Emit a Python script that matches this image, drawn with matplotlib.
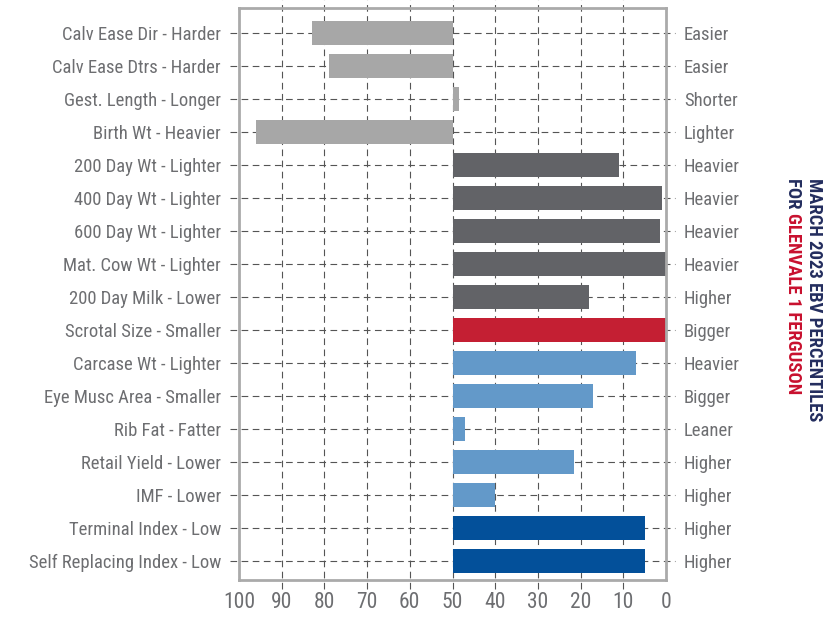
import matplotlib
matplotlib.use("Agg")
import matplotlib.pyplot as plt
import matplotlib.transforms as mtransforms

plt.rcParams['font.family'] = ['Roboto Condensed', 'DejaVu Sans']

left_labels = [
    "Calv Ease Dir - Harder", "Calv Ease Dtrs - Harder", "Gest. Length - Longer",
    "Birth Wt - Heavier", "200 Day Wt - Lighter", "400 Day Wt - Lighter",
    "600 Day Wt - Lighter", "Mat. Cow Wt - Lighter", "200 Day Milk - Lower",
    "Scrotal Size - Smaller", "Carcase Wt - Lighter", "Eye Musc Area - Smaller",
    "Rib Fat - Fatter", "Retail Yield - Lower", "IMF - Lower",
    "Terminal Index - Low", "Self Replacing Index - Low",
]
right_labels = [
    "Easier", "Easier", "Shorter", "Lighter", "Heavier", "Heavier", "Heavier",
    "Heavier", "Higher", "Bigger", "Heavier", "Bigger", "Leaner", "Higher",
    "Higher", "Higher", "Higher",
]
percentiles = [83, 79, 48.5, 96, 11, 1, 1.5, 0, 18, 0, 7, 17, 47, 21.5, 40, 5, 5]
groups = ["calving"] * 4 + ["growth"] * 5 + ["fertility"] + ["carcase"] * 5 + ["index"] * 2

group_colors = {
    "calving": "#a7a7a7",
    "growth": "#626367",
    "fertility": "#c41f33",
    "carcase": "#6399c9",
    "index": "#03509a",
}
grey_text = "#6d6e71"
grid_c = "#555555"

fig = plt.figure(figsize=(8.29, 6.19), dpi=100)
ax = fig.add_axes([239 / 829, 39 / 619, 427 / 829, 572 / 619])

ypos = list(range(len(left_labels)))
for y, v, g in zip(ypos, percentiles, groups):
    ax.barh(y, v - 50, left=50, height=0.72, color=group_colors[g], zorder=3)

ax.set_xlim(100, 0)
ax.set_ylim(16.58, -0.76)

# dashed grid that runs a little past the frame
vt = mtransforms.blended_transform_factory(ax.transData, ax.transAxes)
for x in range(10, 100, 10):
    ax.plot([x, x], [-0.016, 1.014], transform=vt, color=grid_c, lw=0.8,
            ls=(0, (6, 4)), clip_on=False, zorder=1)
ht = mtransforms.blended_transform_factory(ax.transAxes, ax.transData)
for y in ypos:
    ax.plot([-0.022, 1.02], [y, y], transform=ht, color=grid_c, lw=0.8,
            ls=(0, (6, 4)), clip_on=False, zorder=1)

for s in ax.spines.values():
    s.set_color("#aaaaaa")
    s.set_linewidth(2)
    s.set_zorder(4)

ax.set_xticks(range(0, 101, 10))
ax.tick_params(axis="x", length=0, pad=9, labelsize=15.5, labelcolor=grey_text)
ax.set_yticks(ypos)
ax.set_yticklabels(left_labels)
ax.tick_params(axis="y", length=0, pad=13, labelsize=13.4, labelcolor=grey_text)

sec = ax.secondary_yaxis("right")
sec.set_yticks(ypos, right_labels)
sec.tick_params(axis="y", length=0, pad=13, labelsize=13.4, labelcolor=grey_text)
sec.spines["right"].set_visible(False)

navy = "#232d5e"
red = "#c8102e"
fig.text(823 / 829, 1 - 178 / 619, "MARCH 2023 EBV PERCENTILES", rotation=-90,
         ha="right", va="top", fontsize=13.4, fontweight="bold", color=navy)
t2 = fig.text(802 / 829, 1 - 178 / 619, "FOR ", rotation=-90,
              ha="right", va="top", fontsize=13.4, fontweight="bold", color=navy)
ax.annotate("GLENVALE 1 FERGUSON", xy=(1, 0), xycoords=t2, rotation=-90,
            ha="right", va="top", fontsize=13.4, fontweight="bold", color=red,
            annotation_clip=False)

fig.savefig("out.png", dpi=100)
